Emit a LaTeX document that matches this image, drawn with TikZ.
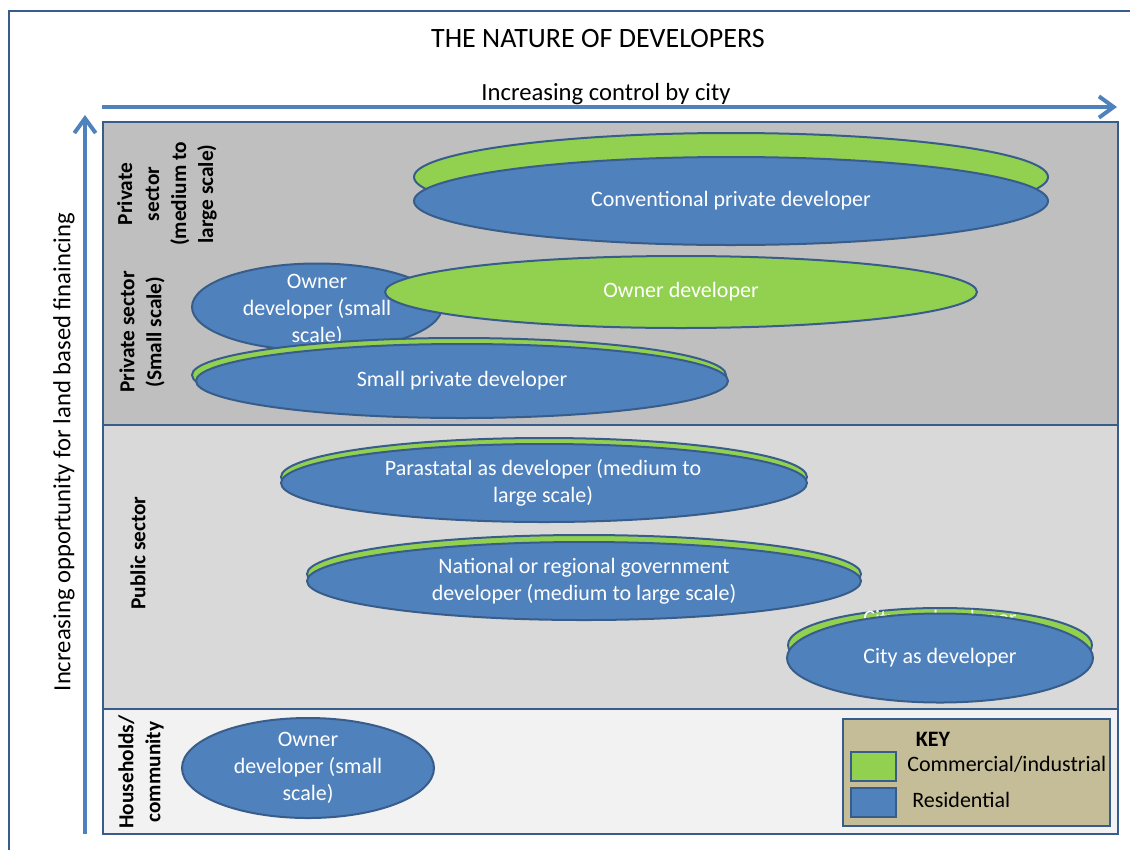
\documentclass[tikz,border=0pt]{standalone}
\usepackage{fontspec}
\setmainfont{Carlito}
\usepackage{tikz}
\usetikzlibrary{shapes.geometric,arrows.meta}

\definecolor{resblue}{RGB}{79,129,189}
\definecolor{edgeblue}{RGB}{56,93,138}
\definecolor{comgreen}{RGB}{146,208,80}
\definecolor{bandtop}{RGB}{191,191,191}
\definecolor{bandmid}{RGB}{217,217,217}
\definecolor{bandlow}{RGB}{242,242,242}
\definecolor{keytan}{RGB}{196,189,151}

\tikzset{
  res/.style 2 args={ellipse, draw=edgeblue, line width=1.5pt, fill=resblue, inner sep=0pt, minimum width=#1*1.5pt, minimum height=#2*1.5pt},
  com/.style 2 args={res={#1}{#2}, fill=comgreen},
  devtext/.style={text=white, align=center, inner sep=0pt, font=\fontsize{16.5}{20.25}\selectfont},
  sidelabel/.style={rotate=90, align=center, inner sep=0pt, font=\bfseries\fontsize{16}{20.25}\selectfont},
  axisarrow/.style={draw=resblue, line width=3pt, -{Straight Barb[length=11pt,width=16pt]}},
  swatch/.style={draw=edgeblue, line width=2pt, minimum width=33.75pt, minimum height=21.75pt, inner sep=0pt},
  keytext/.style={inner sep=0pt, font=\fontsize{16.5}{20}\selectfont},
}

\begin{document}
\begin{tikzpicture}[x=0.75pt,y=0.75pt,yscale=-1,xscale=1]
\useasboundingbox (0,0) rectangle (1130,850);

%Shape: Frame
\draw [edgeblue, line width=1.5pt] (9,850) -- (9,11) -- (1130,11) ;

%Shape: Bands
\fill [bandtop] (103,122) rectangle (1118,425) ;
\fill [bandmid] (103,425) rectangle (1118,709) ;
\fill [bandlow] (103,709) rectangle (1118,834) ;
\draw [edgeblue, line width=2pt] (103,122) rectangle (1118,834) (103,425) -- (1118,425) (103,709) -- (1118,709) ;

%Straight Lines: axes
\coordinate (xfrom) at (102,107) ;
\coordinate (xto) at (1117,107) ;
\coordinate (yfrom) at (85,834) ;
\coordinate (yto) at (85,115) ;
\draw [axisarrow] (xfrom) -- (xto) ;
\draw [axisarrow] (yfrom) -- (yto) ;

% Text Node
\node [font=\fontsize{21}{25}\selectfont, inner sep=0pt] (title) at (598,39) {THE NATURE OF DEVELOPERS};
% Text Node
\node [font=\fontsize{18.5}{22}\selectfont, inner sep=0pt] (xlabel) at (606,94) {Increasing control by city};
% Text Node
\node [rotate=90, font=\fontsize{18.5}{22}\selectfont, inner sep=0pt] (ylabel) at (64,452) {Increasing opportunity for land based finaincing};

%Shape: Ellipse - conventional
\node [com={317}{44}] (convC) at (731,177) {};
\node [res={317}{44}] (convR) at (731,201) {};
\node [devtext] (convT) at (convR) {Conventional private developer};

%Shape: Ellipse - owner small scale
\node [res={125}{43.5}] (ownS) at (317,307) {};
\node [devtext] (ownST) at (317,310) {Owner\\developer (small\\scale)};

%Shape: Ellipse - owner commercial
\node [com={296}{36}] (ownC) at (681,292) {};
\node [devtext] (ownCT) at (ownC) {Owner developer};

%Shape: Ellipse - small private
\node [com={267}{37}] (smallC) at (459,375) {};
\node [res={266}{37}] (smallR) at (462,381) {};
\node [devtext] (smallT) at (smallR) {Small private developer};

%Shape: Ellipse - parastatal
\node [com={263}{39}] (paraC) at (544,477) {};
\node [res={263}{39}] (paraR) at (544,483) {};
\node [devtext] (paraT) at (543,483) {Parastatal as developer (medium to\\large scale)};

%Shape: Ellipse - national
\node [com={277}{39}] (natC) at (584,574) {};
\node [res={277}{39}] (natR) at (584,581) {};
\node [devtext] (natT) at (584,581) {National or regional government\\developer (medium to large scale)};

%Shape: Ellipse - city
\node [com={152}{37}] (cityC) at (940,645) {};
\node [devtext] (cityCT) at (940,620) {City as developer};
\node [res={153}{44.5}] (cityR) at (940,658) {};
\node [devtext] (cityT) at (cityR) {City as developer};

%Shape: Ellipse - households
\node [res={126}{50}] (hhR) at (308,768) {};
\node [devtext] (hhT) at (hhR) {Owner\\developer (small\\scale)};

% Text Node: sectors
\node [sidelabel] (secLarge) at (167,194) {Private\\sector\\(medium to\\large scale)};
\node [sidelabel] (secSmall) at (142,332) {Private sector\\(Small scale)};
\node [sidelabel] (secPublic) at (138,553) {Public sector};
\node [sidelabel] (secHouse) at (141,772) {Households/\\community};

%Shape: Key
\node [draw=edgeblue, line width=2pt, fill=keytan, minimum width=200.25pt, minimum height=80.25pt, inner sep=0pt] (key) at (976.5,772.5) {};
\node [swatch, fill=comgreen] (keyC) at (873.5,766.5) {};
\node [swatch, fill=resblue] (keyR) at (873.5,802.5) {};
\node [keytext, font=\bfseries\fontsize{16.5}{20}\selectfont] (keyT) at (933,739) {KEY};
\node [keytext, anchor=west] (keyCT) at (907,764) {Commercial/industrial};
\node [keytext, anchor=west] (keyRT) at (912,800) {Residential};

\end{tikzpicture}
\end{document}
